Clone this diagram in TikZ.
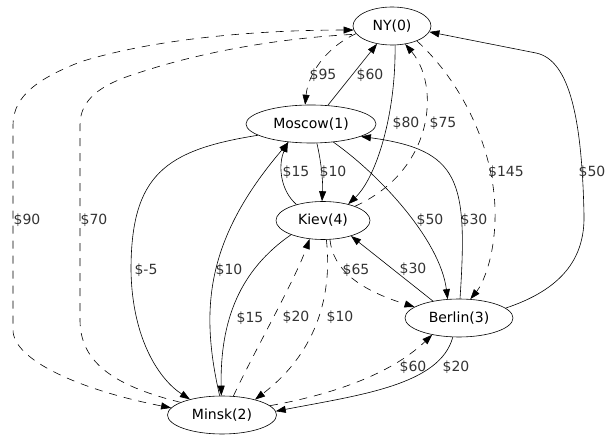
\documentclass[tikz,border=0pt]{standalone}
\usepackage{fontspec}
\setmainfont{DejaVu Sans}
\usetikzlibrary{shapes.geometric,arrows.meta}
\begin{document}
\begin{tikzpicture}[x=1pt,y=-1pt,
  city/.style={draw, ellipse, line width=0.6pt, inner sep=0pt, minimum height=38pt, font=\fontsize{14}{16}\selectfont},
  lbl/.style={inner sep=0pt, font=\fontsize{14}{16}\selectfont, text=black!80},
  tip/.tip={Triangle[length=10pt,width=7pt]},
  edge/.style={draw, line width=0.6pt, -tip},
  dashedge/.style={edge, dash pattern=on 8pt off 7pt},
]
\useasboundingbox (0,0) rectangle (606,435);
% nodes
\node[city, minimum width=78pt]  (ny)     at (392,26)  {NY(0)};
\node[city, minimum width=130pt] (moscow) at (311,124) {Moscow(1)};
\node[city, minimum width=94pt]  (kiev)   at (323,220.5) {Kiev(4)};
\node[city, minimum width=108pt] (berlin) at (459,318) {Berlin(3)};
\node[city, minimum width=109pt] (minsk)  at (222,415) {Minsk(2)};
% edges
\draw[dashedge] (ny.192) .. controls (325,48) and (308,75) .. (moscow.107);
\draw[edge] (moscow.48) -- (ny.230);
\draw[edge] (ny.279) .. controls (396,115) and (376,178) .. (kiev.33);
\draw[dashedge] (kiev.24) .. controls (435,170) and (440,85) .. (ny.306);
\draw[dashedge] (ny.329) .. controls (460,80) and (497,150) .. (495,220) .. controls (494,260) and (482,285) .. (berlin.59);
\draw[edge] (berlin.12) .. controls (560,290) and (585,260) .. (584,215) .. controls (582,120) and (570,60) .. (536,53) -- (ny.351);
\draw[dashedge, tip-tip] (ny.186) .. controls (250,30) and (150,40) .. (80,62) .. controls (40,78) and (13,95) .. (13,125) -- (13,330) .. controls (13,360) and (80,390) .. (minsk.172);
\draw[dashedge, -] (minsk.163) .. controls (110,385) and (80,360) .. (80,320) -- (80,125) .. controls (80,100) and (100,85) .. (135,74) .. controls (200,52) and (280,38) .. (ny.193);
\draw[edge] (moscow.192) .. controls (165,150) and (131,175) .. (131,270) .. controls (132,340) and (160,380) .. (minsk.154);
\draw[edge] (minsk.97) .. controls (200,310) and (205,240) .. (moscow.219);
\draw[edge] (kiev.149) .. controls (280,190) and (278,165) .. (moscow.218);
\draw[edge] (moscow.287) .. controls (322,165) and (323,185) .. (kiev.93);
\draw[edge] (moscow.321) .. controls (380,175) and (440,240) .. (berlin.121);
\draw[edge] (berlin.87) .. controls (468,180) and (460,150) .. (moscow.346);
\draw[edge] (berlin.147) -- (kiev.331);
\draw[dashedge] (kiev.290) .. controls (333,270) and (360,290) .. (berlin.166);
\draw[dashedge] (minsk.59) .. controls (255,350) and (295,280) .. (kiev.234);
\draw[dashedge] (kiev.280) .. controls (332,290) and (320,350) .. (minsk.25);
\draw[edge] (kiev.204) .. controls (240,270) and (220,320) .. (minsk.92);
\draw[dashedge] (minsk.11) .. controls (330,395) and (390,375) .. (berlin.212);
\draw[edge] (berlin.252) .. controls (440,385) and (360,395) .. (minsk.4);
% labels
\node[lbl] (l95)  at (323,75)  {\$95};
\node[lbl] (l60)  at (370,75)  {\$60};
\node[lbl] (l80)  at (406,123) {\$80};
\node[lbl] (l75)  at (443,123) {\$75};
\node[lbl] (l145) at (506,172) {\$145};
\node[lbl] (l50a) at (592,172) {\$50};
\node[lbl] (l10a) at (333,172) {\$10};
\node[lbl] (l15a) at (296,172) {\$15};
\node[lbl] (l90)  at (27,220)  {\$90};
\node[lbl] (l70)  at (94,220)  {\$70};
\node[lbl] (lm5)  at (146,270) {\$-5};
\node[lbl] (l10b) at (229,270) {\$10};
\node[lbl] (l15b) at (250,318) {\$15};
\node[lbl] (l20a) at (296,317) {\$20};
\node[lbl] (l10c) at (340,317) {\$10};
\node[lbl] (l65)  at (356,270) {\$65};
\node[lbl] (l30a) at (413,269) {\$30};
\node[lbl] (l50b) at (430,220) {\$50};
\node[lbl] (l30b) at (474,220) {\$30};
\node[lbl] (l60b) at (413,367) {\$60};
\node[lbl] (l20b) at (456,367) {\$20};
\end{tikzpicture}
\end{document}
